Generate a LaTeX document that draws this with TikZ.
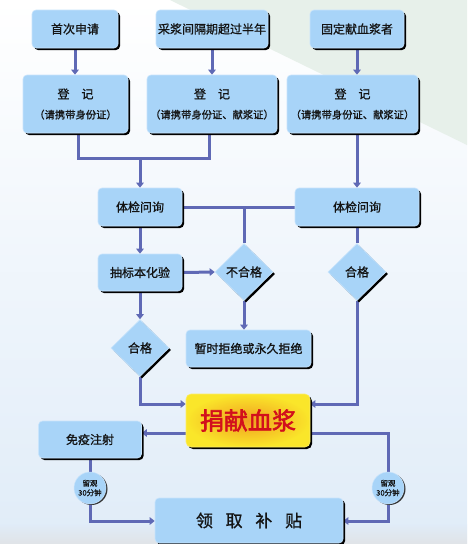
\documentclass[tikz,border=0pt]{standalone}
\usepackage{fontspec}
\setmainfont{Noto Sans CJK SC}[FakeBold=1]
\newfontfamily\heavycjk{Noto Sans CJK SC}[FakeBold=2.4]
\usetikzlibrary{shapes.geometric,arrows.meta,shadows,calc}
\definecolor{boxblue}{HTML}{A8D4F8}
\definecolor{boxedge}{HTML}{C8E4FC}
\definecolor{lineblue}{HTML}{5F69B5}
\definecolor{txt}{HTML}{141414}
\definecolor{bgbot}{HTML}{E0ECF8}
\definecolor{pgreen}{HTML}{E7F0EA}
\definecolor{plasmared}{HTML}{D2101C}
\definecolor{gold}{HTML}{FAE62A}
\definecolor{deeporange}{HTML}{F0A020}
\pgfdeclarelayer{bgl}
\pgfdeclarelayer{edges}
\pgfsetlayers{bgl,edges,main}
\tikzset{
  box/.style={rectangle, rounded corners=4pt, fill=boxblue, draw=boxedge, line width=0.6pt,
    text=txt, inner sep=2pt, align=center,
    drop shadow={shadow xshift=2pt, shadow yshift=-2pt, fill=black, opacity=1}},
  dia/.style={diamond, fill=boxblue, draw=boxedge, line width=0.6pt, text=txt, inner sep=0pt,
    minimum width=58pt, minimum height=57pt, font=\fontsize{12}{14}\selectfont,
    drop shadow={shadow xshift=2pt, shadow yshift=-2pt, fill=black, opacity=1}},
  obs/.style={circle, fill=boxblue, draw=boxedge, line width=0.5pt, text=txt, inner sep=0pt,
    minimum size=32pt, align=center, font=\fontsize{7.5}{9.5}\selectfont,
    drop shadow={shadow xshift=1.5pt, shadow yshift=-1pt, fill=black!80, opacity=1}},
  tf/.style={font=\fontsize{12}{14}\selectfont},
  tfs/.style={font=\fontsize{10.3}{20}\selectfont},
  bigtxt/.style={font=\heavycjk\fontsize{24}{26}\selectfont, inner sep=0pt},
  conn/.style={draw=lineblue, line width=3pt},
  arr/.style={conn, -{Triangle[length=5pt,width=7.5pt]}},
}
\newcommand{\regline}{{\fontsize{12}{20}\selectfont 登\hspace{1em}记}}
\begin{document}
\begin{tikzpicture}[x=1pt,y=-1pt]
\useasboundingbox (0,0) rectangle (467,544);
\begin{pgfonlayer}{bgl}
  \shade[top color=white, bottom color=bgbot] (0,0) rectangle (467,544);
  \fill[pgreen] (170,0) -- (467,0) -- (467,145) -- cycle;
  \shade[top color=bgbot, bottom color=black!12, opacity=0.7] (0,524) rectangle (467,544);
\end{pgfonlayer}

% top row
\node[box, tf, minimum width=86pt, minimum height=38pt] (a1) at (75,29) {首次申请};
\node[box, tf, minimum width=110pt, minimum height=38pt] (a2) at (212,29) {采浆间隔期超过半年};
\node[box, tf, minimum width=94pt, minimum height=38pt] (a3) at (357,29) {固定献血浆者};
% registration
\node[box, tfs, minimum width=105pt, minimum height=58pt] (b1) at (75.5,104) {\regline\\（请携带身份证）};
\node[box, tfs, minimum width=130pt, minimum height=58pt] (b2) at (212,104) {\regline\\（请携带身份证、献浆证）};
\node[box, tfs, minimum width=131pt, minimum height=58pt] (b3) at (352.5,104) {\regline\\（请携带身份证、献浆证）};
% check
\node[box, tf, minimum width=84pt, minimum height=38pt] (c1) at (140,207) {体检问询};
\node[box, tf, minimum width=124pt, minimum height=38pt] (c2) at (357,207) {体检问询};
\node[box, tf, minimum width=84pt, minimum height=37pt] (d1) at (140,272.5) {抽标本化验};
\node[dia] (dq1) at (244,272) {不合格};
\node[dia] (dq2) at (357,272) {合格};
\node[box, tf, minimum width=125pt, minimum height=37pt] (e1) at (248.5,348.5) {暂时拒绝或永久拒绝};
\node[dia] (dq3) at (140,348) {合格};
% donation
\node[rectangle, rounded corners=5pt, minimum width=124pt, minimum height=53pt,
  inner color=deeporange, outer color=gold, draw=gold!70!white, line width=0.6pt,
  drop shadow={shadow xshift=2pt, shadow yshift=-2pt, fill=black, opacity=1}] (f) at (248,420.5) {};
\node[bigtxt, text=plasmared] (ft) at (f) {捐献血浆};
\node[box, tf, minimum width=103pt, minimum height=37pt] (g) at (90,439.5) {免疫注射};
\node[box, font=\fontsize{17}{19}\selectfont, minimum width=188pt, minimum height=45pt] (h) at (249,520.5)
  {领\hspace{0.75em}取\hspace{0.75em}补\hspace{0.75em}贴};
\node[obs] (o1) at (90,488) {留观\\30分钟};
\node[obs] (o2) at (388,488) {留观\\30分钟};

\coordinate (j1) at (140,158);
\coordinate (k2) at (0,404);
\coordinate (k3) at (0,433);
\coordinate (k4) at (0,521);

\begin{pgfonlayer}{edges}
  \draw[arr] (a1.south) -- (a1.south |- b1.north);
  \draw[arr] (a2.south) -- (a2.south |- b2.north);
  \draw[arr] (a3.south) -- (a3.south |- b3.north);
  \draw[conn] ([xshift=3pt]b1.south) |- (j1) -| ([xshift=-3pt]b2.south);
  \draw[arr] (j1) -- (c1.north);
  \draw[arr] (a3.south |- b3.south) -- (c2.north);
  \draw[conn] (c1.east) -- (c2.west);
  \draw[conn] (dq1.north |- c1.east) -- (dq1.north);
  \draw[arr] (c1.south) -- (d1.north);
  \draw[arr] (d1.east) -- (dq1.west);
  \draw[arr] (dq1.south) -- (dq1.south |- e1.north);
  \draw[arr] (d1.south) -- (dq3.north);
  \draw[conn] (c2.south) -- (dq2.north);
  \draw[arr] (dq2.south) |- (f.east |- k2);
  \draw[arr] (dq3.south) |- (f.west |- k2);
  \draw[arr] (f.west |- k3) -- (g.east |- k3);
  \draw[conn] (f.east |- k3) -| (o2.north);
  \draw[arr] (o2.south) |- (h.east |- k4);
  \draw[conn] (g.south) -- (o1.north);
  \draw[arr] (o1.south) |- (h.west |- k4);
\end{pgfonlayer}
\end{tikzpicture}
\end{document}
